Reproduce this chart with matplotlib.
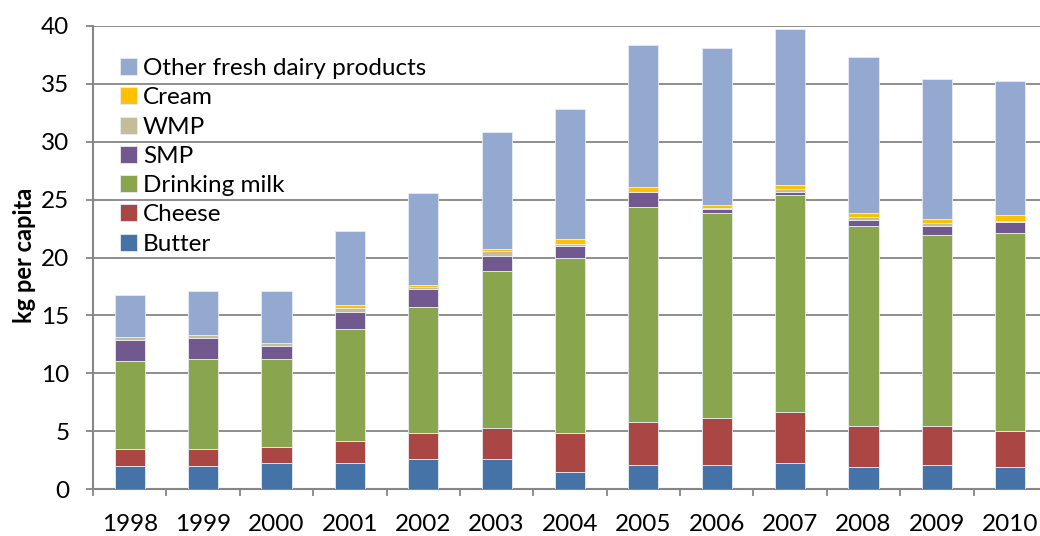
import matplotlib
matplotlib.use("Agg")
import matplotlib.pyplot as plt
import numpy as np

plt.rcParams['font.family'] = ['Lato', 'DejaVu Sans']

years = ['1998', '1999', '2000', '2001', '2002', '2003', '2004',
         '2005', '2006', '2007', '2008', '2009', '2010']

# kg per capita (bottom to top)
butter = [2.01, 2.01, 2.22, 2.22, 2.56, 2.56, 1.50, 2.04, 2.04, 2.22, 1.87, 2.04, 1.87]
cheese = [1.42, 1.42, 1.38, 1.90, 2.25, 2.74, 3.31, 3.78, 4.12, 4.46, 3.60, 3.43, 3.11]
drinking_milk = [7.60, 7.77, 7.60, 9.70, 10.89, 13.53, 15.19, 18.52, 17.66, 18.69, 17.28, 16.45, 17.11]
smp = [1.87, 1.87, 1.18, 1.50, 1.55, 1.33, 1.00, 1.32, 0.34, 0.32, 0.49, 0.83, 1.01]
wmp = [0.23, 0.23, 0.23, 0.34, 0.17, 0.40, 0.20, 0.04, 0.14, 0.20, 0.23, 0.20, 0.05]
cream = [0.03, 0.03, 0.03, 0.21, 0.18, 0.14, 0.37, 0.37, 0.20, 0.35, 0.35, 0.35, 0.50]
other_fresh = [3.57, 3.75, 4.44, 6.39, 7.95, 10.17, 11.23, 12.26, 13.63, 13.47, 13.48, 12.10, 11.57]

series = [
    ('Butter', butter, '#4572A7'),
    ('Cheese', cheese, '#AA4643'),
    ('Drinking milk', drinking_milk, '#89A54E'),
    ('SMP', smp, '#71588F'),
    ('WMP', wmp, '#C4BD97'),
    ('Cream', cream, '#FFC000'),
    ('Other fresh dairy products', other_fresh, '#93A9CF'),
]

W, H = 1040, 536
fig = plt.figure(figsize=(W / 100, H / 100), dpi=100)
ax = fig.add_axes([93 / W, 47 / H, 954 / W, 463 / H])

x = np.arange(len(years))
bottom = np.zeros(len(years))
handles = []
for name, vals, col in series:
    b = ax.bar(x, vals, width=0.41, bottom=bottom, color=col, label=name,
               edgecolor='#E8ECF4', linewidth=0.6, zorder=3)
    handles.append(b)
    bottom += np.array(vals)

grid_col = '#868686'
ax.set_xlim(-0.5, len(years) - 0.5)
ax.set_ylim(0, 40)
ax.set_yticks(np.arange(0, 41, 5))
ax.yaxis.grid(True, color=grid_col, linewidth=1.3, zorder=0)
ax.set_axisbelow(True)

for s in ['top', 'right']:
    ax.spines[s].set_visible(False)
for s in ['left', 'bottom']:
    ax.spines[s].set_color(grid_col)
    ax.spines[s].set_linewidth(1.5)

# ticks between categories, labels at centres
ax.set_xticks(np.arange(-0.5, len(years), 1.0))
ax.set_xticklabels([])
ax.set_xticks(x, minor=True)
ax.set_xticklabels(years, minor=True)
ax.tick_params(axis='x', which='major', length=5, width=1.3, color=grid_col)
ax.tick_params(axis='x', which='minor', length=0, pad=18, labelsize=17.5)
ax.tick_params(axis='y', length=5, width=1.3, color=grid_col, pad=12, labelsize=17.5)

fig.text(25 / W, 1 - 255 / H, 'kg per capita', rotation=90, ha='center',
         va='center', fontsize=17, fontweight='bold')

leg = ax.legend(handles[::-1], [s[0] for s in series][::-1],
                loc='upper left', bbox_to_anchor=(120 / W, 1 - 58 / H),
                bbox_transform=fig.transFigure, frameon=False, fontsize=17.5,
                handlelength=0.7, handleheight=0.7, handletextpad=0.25,
                labelspacing=0.34, borderpad=0, borderaxespad=0)

fig.savefig('out.png', dpi=100)
